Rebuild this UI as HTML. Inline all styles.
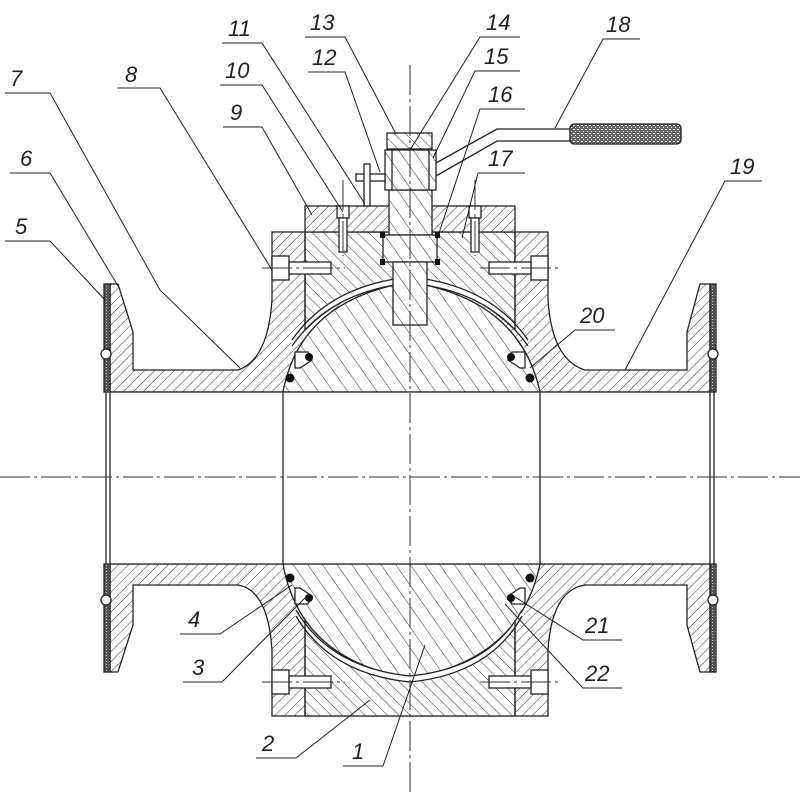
<!DOCTYPE html>
<html><head><meta charset="utf-8"><style>
html,body{margin:0;padding:0;background:#fff}
svg{display:block}
text{font-family:"Liberation Sans",sans-serif;font-size:22px;font-style:italic;fill:#222}
</style></head><body>
<svg width="800" height="800" viewBox="0 0 800 800" xmlns="http://www.w3.org/2000/svg">
<defs>
<pattern id="h1" width="7" height="7" patternUnits="userSpaceOnUse" patternTransform="rotate(45)">
<rect width="7" height="7" fill="#fff"/><line x1="0" y1="0" x2="0" y2="7" stroke="#333" stroke-width="1"/></pattern>
<pattern id="h2" width="8" height="8" patternUnits="userSpaceOnUse" patternTransform="rotate(-45)">
<rect width="8" height="8" fill="#fff"/><line x1="0" y1="0" x2="0" y2="8" stroke="#333" stroke-width="1"/></pattern>
<pattern id="h3" width="12" height="12" patternUnits="userSpaceOnUse" patternTransform="rotate(-35)">
<rect width="12" height="12" fill="#fff"/><line x1="0" y1="0" x2="0" y2="12" stroke="#333" stroke-width="1"/></pattern>
<pattern id="grip" width="4" height="4" patternUnits="userSpaceOnUse">
<rect width="4" height="4" fill="#666"/><rect x="1" y="1" width="2" height="1" fill="#ddd"/><rect x="3" y="3" width="1" height="1" fill="#eee"/></pattern>
<pattern id="gas" width="3" height="3" patternUnits="userSpaceOnUse">
<rect width="3" height="3" fill="#555"/><rect x="1" y="1" width="1" height="1" fill="#bbb"/></pattern>
</defs>
<g stroke="#222" stroke-width="1.3">
<path d="M110,284 L118,284 L133,332 L133,370 L238,370 Q268,360 272,300 L272,232 L548,232 L548,300 Q552,360 585,370 L687,370 L687,332 L700,284 L710,284 L710,392 L110,392 Z" fill="url(#h1)"/>
<path d="M110,564 L710,564 L710,672 L700,672 L687,625 L687,585 L585,585 Q552,590 548,650 L548,716 L272,716 L272,650 Q268,590 238,585 L133,585 L133,625 L118,672 L110,672 Z" fill="url(#h1)"/>
<path d="M305,232 L515,232 L515,330 Q470,285 410,282 Q350,285 305,330 Z" fill="url(#h2)"/>
<path d="M305,716 L515,716 L515,620 Q470,675 410,678 Q350,675 305,620 Z" fill="url(#h2)"/>
<path d="M283,392 Q300,300 410,282 Q520,300 540,392 Z" fill="url(#h3)"/>
<path d="M283,564 Q300,660 410,678 Q520,660 540,564 Z" fill="url(#h3)"/>
<path d="M292,343 Q330,288 410,280 Q490,288 528,343" fill="none" stroke="#fff" stroke-width="5"/>
<path d="M292,340 Q330,285 410,277 Q490,285 528,340" fill="none"/>
<path d="M292,346 Q330,291 410,283 Q490,291 528,346" fill="none"/>
<path d="M296,613 Q330,671 410,679 Q490,671 522,613" fill="none" stroke="#fff" stroke-width="5"/>
<path d="M296,610 Q330,668 410,676 Q490,668 522,610" fill="none"/>
<path d="M296,616 Q330,674 410,682 Q490,674 522,616" fill="none"/>
<line x1="305" y1="232" x2="305" y2="330"/><line x1="515" y1="232" x2="515" y2="330"/>
<line x1="305" y1="620" x2="305" y2="716"/><line x1="515" y1="620" x2="515" y2="716"/>
<rect x="106" y="392" width="606" height="172" fill="#fff" stroke="none"/>
<line x1="283" y1="392" x2="283" y2="564"/><line x1="540" y1="392" x2="540" y2="564"/>
<line x1="106" y1="392" x2="106" y2="564"/><line x1="110" y1="392" x2="110" y2="564"/>
<line x1="710" y1="392" x2="710" y2="564"/><line x1="714" y1="392" x2="714" y2="564"/>
<line x1="110" y1="392" x2="710" y2="392"/><line x1="110" y1="564" x2="710" y2="564"/>
<rect x="104" y="284" width="6" height="108" fill="url(#gas)"/><rect x="104" y="564" width="6" height="108" fill="url(#gas)"/>
<rect x="710" y="284" width="6" height="108" fill="url(#gas)"/><rect x="710" y="564" width="6" height="108" fill="url(#gas)"/>
<circle cx="106" cy="354" r="5" fill="#fff"/><circle cx="106" cy="600" r="5" fill="#fff"/>
<circle cx="713" cy="354" r="5" fill="#fff"/><circle cx="713" cy="600" r="5" fill="#fff"/>
<path d="M295,352 L308,352 L312,360 L300,368 L295,368 Z" fill="#fff"/>
<path d="M525,352 L512,352 L508,360 L520,368 L525,368 Z" fill="#fff"/>
<path d="M295,604 L308,604 L312,596 L300,588 L295,588 Z" fill="#fff"/>
<path d="M525,604 L512,604 L508,596 L520,588 L525,588 Z" fill="#fff"/>
</g>
<g fill="#111">
<circle cx="309" cy="357" r="4"/><circle cx="290" cy="378" r="4.5"/>
<circle cx="511" cy="357" r="4"/><circle cx="530" cy="378" r="4.5"/>
<circle cx="309" cy="598" r="4"/><circle cx="290" cy="578" r="4.5"/>
<circle cx="511" cy="598" r="4"/><circle cx="530" cy="578" r="4.5"/>
</g>
<g stroke="#222" stroke-width="1.3">
<rect x="305" y="206" width="210" height="26" fill="url(#h1)"/>
<rect x="389" y="190" width="43" height="45" fill="url(#h3)"/>
<rect x="383" y="235" width="54" height="27" fill="url(#h3)"/>
<rect x="393" y="262" width="34" height="63" fill="url(#h3)"/>
<rect x="385" y="150" width="51" height="40" fill="url(#h3)"/>
<line x1="392" y1="150" x2="392" y2="190"/><line x1="429" y1="150" x2="429" y2="190"/>
<rect x="387" y="133" width="45" height="16" fill="url(#h2)"/>
<polyline points="436,163 497,129 570,129" fill="none"/>
<polyline points="436,176 497,141 570,141" fill="none"/>
<rect x="570" y="124" width="111" height="20" rx="4" fill="url(#grip)"/>
<rect x="356" y="174" width="29" height="7" fill="#fff"/>
<rect x="364" y="164" width="6" height="42" fill="#fff"/>
<rect x="337" y="206" width="12" height="12" fill="#fff"/><rect x="339" y="218" width="8" height="34" fill="#fff"/>
<rect x="469" y="206" width="12" height="12" fill="#fff"/><rect x="471" y="218" width="8" height="34" fill="#fff"/>
<rect x="272" y="256" width="17" height="24" fill="#fff"/><rect x="289" y="262" width="42" height="12" fill="#fff"/>
<rect x="531" y="256" width="17" height="24" fill="#fff"/><rect x="489" y="262" width="42" height="12" fill="#fff"/>
<rect x="272" y="670" width="17" height="24" fill="#fff"/><rect x="289" y="676" width="42" height="12" fill="#fff"/>
<rect x="531" y="670" width="17" height="24" fill="#fff"/><rect x="489" y="676" width="42" height="12" fill="#fff"/>
</g>
<g fill="#111"><rect x="380" y="232" width="5" height="6"/><rect x="435" y="232" width="5" height="6"/><rect x="380" y="259" width="5" height="6"/><rect x="435" y="259" width="5" height="6"/></g>
<g stroke="#333" stroke-width="1" stroke-dasharray="30,4,3,4" fill="none">
<line x1="0" y1="477" x2="800" y2="477"/>
<line x1="410" y1="65" x2="410" y2="795"/>
<line x1="262" y1="268" x2="345" y2="268"/><line x1="480" y1="268" x2="558" y2="268"/>
<line x1="262" y1="682" x2="345" y2="682"/><line x1="480" y1="682" x2="558" y2="682"/>
<line x1="343" y1="180" x2="343" y2="256"/><line x1="475" y1="180" x2="475" y2="256"/>
</g>
<g stroke="#222" stroke-width="1" fill="none">
<polyline points="5,93 50,93 160,290 240,368"/>
<polyline points="117,88 160,88 272,270"/>
<polyline points="5,241 50,241 105,300"/>
<polyline points="10,173 50,173 118,286"/>
<polyline points="223,127 262,127 312,215"/>
<polyline points="220,85 262,85 343,212"/>
<polyline points="222,43 262,43 365,204"/>
<polyline points="308,72 345,72 380,172"/>
<polyline points="305,37 345,37 396,134"/>
<polyline points="520,37 480,37 410,150"/>
<polyline points="520,71 475,71 433,158"/>
<polyline points="525,109 480,109 438,236"/>
<polyline points="525,173 478,173 462,238"/>
<polyline points="640,39 603,39 555,128"/>
<polyline points="762,181 725,181 625,370"/>
<polyline points="615,330 575,330 530,368"/>
<polyline points="622,640 583,640 515,597"/>
<polyline points="622,688 583,688 505,604"/>
<polyline points="180,634 220,634 292,585"/>
<polyline points="183,682 222,682 305,598"/>
<polyline points="256,758 296,758 370,700"/>
<polyline points="343,766 383,766 425,645"/>
</g>
<g>
<text x="10" y="86">7</text><text x="125" y="82">8</text>
<text x="15" y="234">5</text><text x="20" y="166">6</text>
<text x="230" y="120">9</text><text x="225" y="78">10</text>
<text x="228" y="36">11</text><text x="312" y="65">12</text>
<text x="310" y="30">13</text><text x="486" y="30">14</text>
<text x="484" y="64">15</text><text x="488" y="102">16</text>
<text x="488" y="166">17</text><text x="606" y="32">18</text>
<text x="730" y="174">19</text><text x="580" y="323">20</text>
<text x="585" y="633">21</text><text x="585" y="681">22</text>
<text x="188" y="627">4</text><text x="192" y="675">3</text>
<text x="262" y="751">2</text><text x="352" y="759">1</text>
</g>
</svg>
</body></html>
